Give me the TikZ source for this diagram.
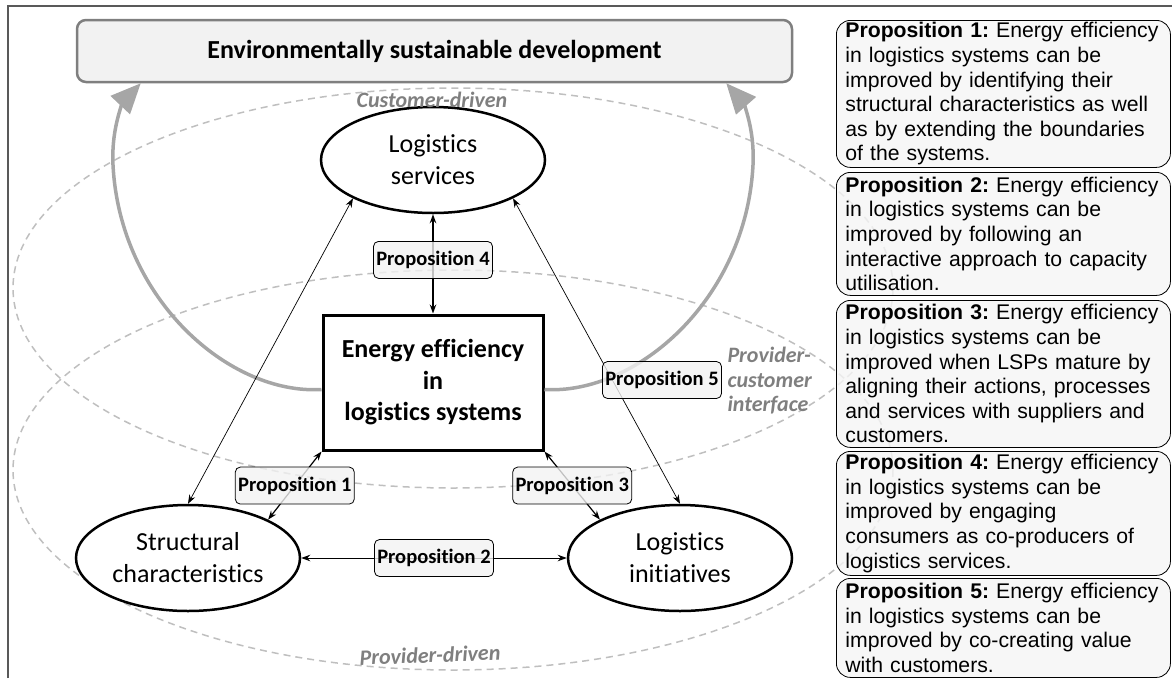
\documentclass[tikz,border=0pt]{standalone}
\usepackage{fontspec}
\setmainfont{Carlito}[Ligatures=NoCommon]
\newfontfamily\notefont{Liberation Sans}
\usetikzlibrary{arrows.meta,shapes.geometric,positioning}
\definecolor{framegray}{HTML}{595959}
\definecolor{goalfill}{HTML}{F2F2F2}
\definecolor{goaldraw}{HTML}{7F7F7F}
\definecolor{zonegray}{HTML}{BFBFBF}
\definecolor{zonetext}{HTML}{7F7F7F}
\definecolor{flowgray}{HTML}{A6A6A6}
\definecolor{notefill}{HTML}{F5F5F5}
\frenchspacing

\begin{document}
\begin{tikzpicture}[
    x=1pt, y=-1pt,
    >={Stealth[length=9pt,width=6.5pt]},
    goalbox/.style={rectangle, rounded corners=9pt, draw=goaldraw, fill=goalfill, line width=2.5pt,
          minimum width=715pt, minimum height=62pt, font=\bfseries\fontsize{26}{31}\selectfont},
    factor/.style={ellipse, draw, line width=2.5pt, fill=white, minimum width=224pt, minimum height=106pt,
          inner sep=0pt, align=center, font=\fontsize{26}{32}\selectfont},
    corebox/.style={rectangle, draw, line width=3pt, fill=white, minimum width=220pt, minimum height=135pt,
          align=center, font=\bfseries\fontsize{26}{31.5}\selectfont},
    proplabel/.style={rectangle, rounded corners=5pt, draw, line width=0.8pt, fill=goalfill, fill opacity=0.8,
          text opacity=1, minimum width=119pt, minimum height=37pt, inner sep=0pt,
          font=\bfseries\fontsize{20.5}{24}\selectfont},
    propnote/.style={rectangle, rounded corners=14pt, draw, line width=0.8pt, fill=notefill, fill opacity=0.8,
          text opacity=1, anchor=north west, text width=316pt, inner xsep=9pt, inner ysep=0pt, align=left,
          font=\notefont\fontsize{21.2}{24.6}\selectfont},
    zone/.style={draw=zonegray, line width=1.5pt, dash pattern=on 7pt off 5pt},
    zonelabel/.style={text=zonetext, font=\bfseries\itshape\fontsize{22}{24.5}\selectfont},
    link/.style={<->, line width=0.9pt},
    flow/.style={-{Triangle[length=30pt,width=26pt]}, draw=flowgray, line width=3.5pt}
]
    \useasboundingbox (0,0) rectangle (1172,678);
    \draw[framegray, line width=1.5pt] (8,678) -- (8,6) -- (1172,6);

    % === ZONES ===
    \draw[zone] (453,288) ellipse [x radius=440, y radius=200];
    \draw[zone] (453,470) ellipse [x radius=440, y radius=200];

    % === PROPOSITION NOTES ===
    \node[propnote, minimum height=147pt] (note1) at (836,20) {\textbf{Proposition 1:} Energy efficiency\\
        in logistics systems can be\\improved by identifying their\\structural characteristics as well\\
        as by extending the boundaries\\of the systems.};
    \node[propnote, minimum height=123pt] (note2) at (836,172) {\textbf{Proposition 2:} Energy efficiency\\
        in logistics systems can be\\improved by following an\\interactive approach to capacity\\utilisation.};
    \node[propnote, minimum height=147pt] (note3) at (836,300) {\textbf{Proposition 3:} Energy efficiency\\
        in logistics systems can be\\improved when LSPs mature by\\aligning their actions, processes\\
        and services with suppliers and\\customers.};
    \node[propnote, minimum height=124pt] (note4) at (836,451) {\textbf{Proposition 4:} Energy efficiency\\
        in logistics systems can be\\improved by engaging\\consumers as co-producers of\\logistics services.};
    \node[propnote, minimum height=99pt] (note5) at (836,578) {\textbf{Proposition 5:} Energy efficiency\\
        in logistics systems can be\\improved by co-creating value\\with customers.};

    % === MAIN NODES ===
    \node[goalbox] (goal) at (434.5,51) {Environmentally sustainable development};
    \node[factor] (services) at (433,160) {Logistics\\services};
    \node[corebox] (energy) at (433,382.5) {Energy efficiency\\in\\logistics systems};
    \node[factor] (structural) at (188,558) {Structural\\characteristics};
    \node[factor] (initiatives) at (680,558) {Logistics\\initiatives};

    % zone labels
    \node[zonelabel] (custlbl) at (432,100) {Customer-driven};
    \node[zonelabel, rotate=2] (provlbl) at (430,655) {Provider-driven};
    \node[zonelabel, anchor=west, align=left] (ifacelbl) at (724,381) {Provider-\\customer\\interface};

    % === FLOWS TO THE GOAL ===
    \draw[flow] ([yshift=-7pt]energy.west) .. controls (230,395) and (120,300) .. (113,165)
        .. controls (111,125) and (125,100) .. ([xshift=65pt]goal.south west);
    \draw[flow] ([yshift=-7pt]energy.east) .. controls (636,395) and (746,300) .. (753,165)
        .. controls (755,125) and (741,100) .. ([xshift=-67pt]goal.south east);

    % === PROPOSITION LINKS ===
    \draw[link, line width=0.7pt] (services.south west) -- (structural.north);
    \draw[link, line width=0.7pt] (services.south east) -- (initiatives.north);
    \draw[link, line width=1.4pt] (services.south) -- node[proplabel, pos=0.46] (p4) {Proposition 4} (energy.north);
    \draw[link, line width=1.2pt] (energy.south west) -- node[proplabel] (p1) {Proposition 1} (structural.north east);
    \draw[link, line width=1.2pt] (energy.south east) -- node[proplabel] (p3) {Proposition 3} (initiatives.north west);
    \draw[link] (structural.east) -- node[proplabel] (p2) {Proposition 2} (initiatives.west);
    \node[proplabel] (p5) at (662,380) {Proposition 5};
\end{tikzpicture}
\end{document}
